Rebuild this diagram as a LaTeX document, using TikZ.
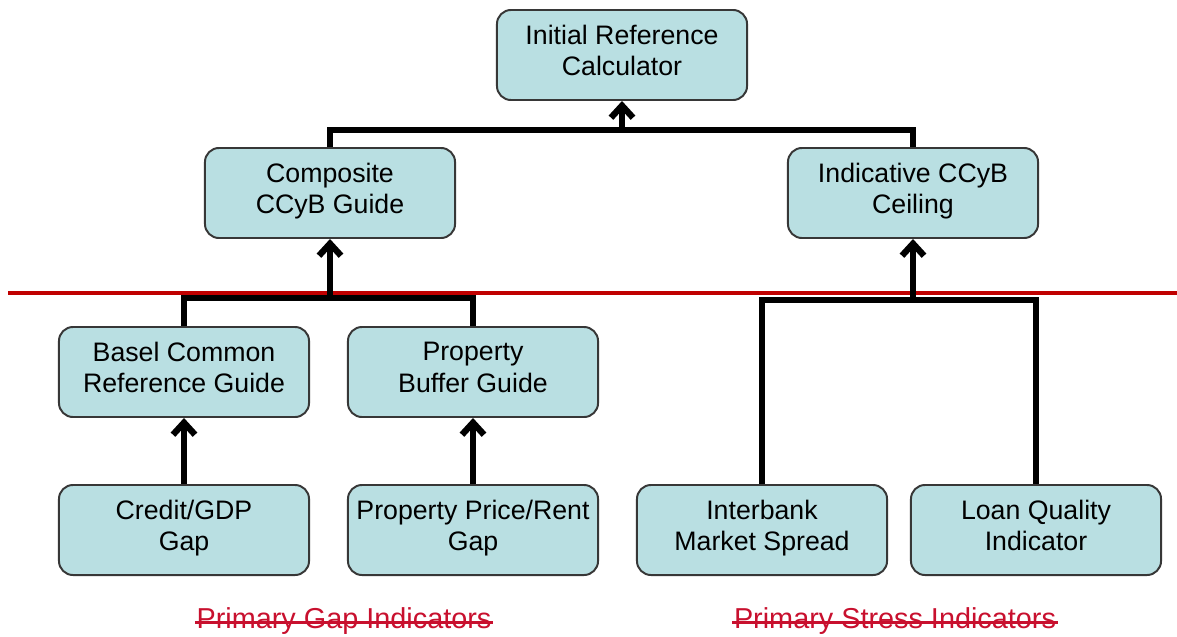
\documentclass[tikz,border=0pt]{standalone}
\usepackage{fontspec}
\setmainfont{Liberation Sans}
\usetikzlibrary{arrows.meta}
\definecolor{boxfill}{RGB}{185,223,226}
\definecolor{boxline}{RGB}{55,55,55}
\definecolor{divred}{RGB}{192,0,0}
\definecolor{labred}{RGB}{200,16,46}

\begin{document}
\begin{tikzpicture}[x=0.025cm, y=-0.025cm,
		>={Straight Barb[length=3mm,width=5.5mm]},
		box/.style={draw=boxline, line width=1.4pt, fill=boxfill, rounded corners=0.35cm,
			minimum width=6.25cm, minimum height=2.25cm, align=center, text=black,
			font=\fontsize{19}{22.5}\selectfont,
			execute at begin node=\rule{0pt}{25pt}, execute at end node=\strut},
		link/.style={line width=4.5pt},
		grouplabel/.style={text=labred, inner sep=0pt, anchor=base,
			font=\fontsize{20.5}{24}\selectfont},
		strike/.style={draw=labred, line width=1.6pt}]
		\useasboundingbox (0,0) rectangle (1177,637);

		% boxes, top to bottom
		\node[box] (irc) at (622,55) {Initial Reference\\Calculator};
		\node[box] (comp) at (330,193) {Composite\\CCyB Guide};
		\node[box] (ceil) at (913,193) {Indicative CCyB\\Ceiling};
		\node[box] (basel) at (184,372) {Basel Common\\Reference Guide};
		\node[box] (pbg) at (473,372) {Property\\Buffer Guide};
		\node[box] (cgdp) at (184,530) {Credit/GDP\\Gap};
		\node[box] (ppr) at (473,530) {Property Price/Rent\\Gap};
		\node[box] (ibs) at (762,530) {Interbank\\Market Spread};
		\node[box] (lqi) at (1036,530) {Loan Quality\\Indicator};

		% dividing line
		\draw[divred, line width=3.5pt] (8,293) -- (1177,293);

		% joins
		\coordinate (topjoin) at (622,130);
		\coordinate (gapjoin) at (330,298);
		\coordinate (stressjoin) at (913,300);

		\draw[link] (comp.north) |- (topjoin) -| (ceil.north);
		\draw[link, ->] (topjoin) -- (irc.south);
		\draw[link] (basel.north) |- (gapjoin) -| (pbg.north);
		\draw[link, ->] (gapjoin) -- (comp.south);
		\draw[link] (ibs.north) |- (stressjoin) -| (lqi.north);
		\draw[link, ->] (stressjoin) -- (ceil.south);
		\draw[link, ->] (cgdp) -- (basel);
		\draw[link, ->] (ppr) -- (pbg);

		% group labels, struck through
		\node[grouplabel] (gaplab) at (344,628) {Primary Gap Indicators};
		\node[grouplabel] (stresslab) at (895,628) {Primary Stress Indicators};
		\draw[strike] ([xshift=-1pt, yshift=1.4mm]gaplab.base west)
			-- ([xshift=1pt, yshift=1.4mm]gaplab.base east);
		\draw[strike] ([xshift=-1pt, yshift=1.4mm]stresslab.base west)
			-- ([xshift=1pt, yshift=1.4mm]stresslab.base east);
\end{tikzpicture}
\end{document}
